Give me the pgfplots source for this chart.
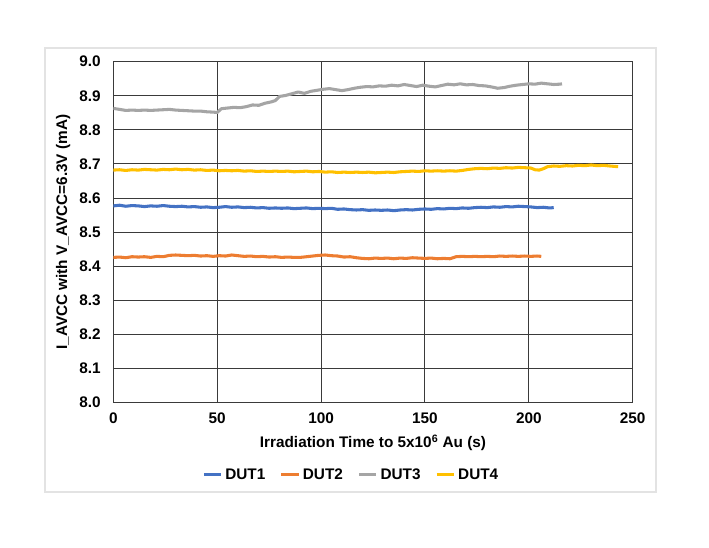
\documentclass[border=0pt]{standalone}
\usepackage{fontspec}
\setmainfont{Liberation Sans}
\usepackage{pgfplots}
\pgfplotsset{compat=1.18}

\definecolor{dutblue}{HTML}{4472C4}
\definecolor{dutorange}{HTML}{ED7D31}
\definecolor{dutgray}{HTML}{A5A5A5}
\definecolor{dutyellow}{HTML}{FFC000}
\definecolor{gridc}{HTML}{3A3A3A}

\newcommand{\chartfont}{\fontsize{11.5}{13}\selectfont\bfseries}

\begin{document}
\begin{tikzpicture}
\path[use as bounding box] (0,0) rectangle (531.75pt,411pt);
\draw[gray!22, line width=0.9pt] (33.75pt,42pt) rectangle (492pt,375pt);
\begin{axis}[
    at={(85pt,109pt)}, anchor=south west,
    scale only axis,
    width=389.5pt, height=255.75pt,
    xmin=0, xmax=250, ymin=8.0, ymax=9.0,
    xtick={0,50,...,250},
    ytick={8.0,8.1,...,9.0},
    grid=major,
    grid style={gridc, line width=0.75pt},
    axis line style={gridc, line width=0.75pt},
    major tick length=0pt,
    /pgf/number format/assume math mode=true,
    yticklabel style={/pgf/number format/.cd, fixed, fixed zerofill, precision=1, /tikz/.cd, font=\chartfont, xshift=-6pt},
    xticklabel style={font=\chartfont, yshift=-4pt},
    xlabel={Irradiation Time to 5x10\textsuperscript{6} Au (s)},
    ylabel={I\_AVCC with V\_AVCC=6.3V (mA)},
    xlabel style={font=\chartfont, at={(axis description cs:0.5,-0.118)}, anchor=center},
    ylabel style={font=\chartfont, at={(axis description cs:-0.0968,0.5)}, anchor=center},
    legend columns=4,
    legend style={at={(axis description cs:0.4588,-0.212)}, anchor=center, draw=none, fill=none,
        font=\chartfont, inner sep=0pt,
        /tikz/every even column/.append style={column sep=9pt}},
    legend cell align=left,
    legend image code/.code={\draw[#1, line width=2.2pt] (0pt,0pt) -- (13pt,0pt);},
    every axis plot/.append style={line width=2.3pt, line join=round},
]
\addplot[dutblue] coordinates {
(0,8.577) (3,8.579) (6,8.576) (9,8.578) (12,8.577) (15,8.575) (18,8.577) (21,8.576)
(24,8.578) (27,8.576) (30,8.575) (33,8.576) (36,8.574) (39,8.575) (42,8.573) (45,8.574)
(48,8.572) (51,8.573) (54,8.575) (57,8.573) (60,8.574) (63,8.572) (66,8.573) (69,8.571)
(72,8.572) (75,8.570) (78,8.571) (81,8.570) (84,8.571) (87,8.569) (90,8.570) (93,8.571)
(96,8.569) (99,8.570) (102,8.569) (105,8.570) (108,8.567) (111,8.568) (114,8.566) (117,8.565)
(120,8.566) (123,8.564) (126,8.565) (129,8.564) (132,8.565) (135,8.563) (138,8.565) (141,8.566)
(144,8.565) (147,8.567) (150,8.568) (153,8.567) (156,8.569) (159,8.568) (162,8.570) (165,8.569)
(168,8.571) (171,8.570) (174,8.572) (177,8.573) (180,8.572) (183,8.574) (186,8.573) (189,8.575)
(192,8.574) (195,8.576) (198,8.575) (201,8.574) (204,8.572) (207,8.573) (210,8.571) (212,8.572)
};
\addplot[dutorange] coordinates {
(0,8.426) (3,8.427) (6,8.425) (9,8.428) (12,8.427) (15,8.428) (18,8.426) (21,8.429)
(24,8.428) (27,8.432) (30,8.433) (33,8.432) (36,8.431) (39,8.432) (42,8.430) (45,8.431)
(48,8.429) (51,8.431) (54,8.430) (57,8.433) (60,8.431) (63,8.429) (66,8.430) (69,8.428)
(72,8.429) (75,8.427) (78,8.428) (81,8.426) (84,8.427) (87,8.426) (90,8.426) (93,8.428)
(96,8.430) (99,8.432) (102,8.433) (105,8.431) (108,8.430) (111,8.427) (114,8.428) (117,8.425)
(120,8.423) (123,8.422) (126,8.424) (129,8.423) (132,8.424) (135,8.422) (138,8.424) (141,8.423)
(144,8.425) (147,8.424) (150,8.423) (153,8.424) (156,8.422) (159,8.423) (162,8.422) (165,8.428)
(168,8.429) (171,8.428) (174,8.429) (177,8.428) (180,8.429) (183,8.428) (186,8.430) (189,8.429)
(192,8.430) (195,8.429) (198,8.430) (201,8.429) (204,8.430) (206,8.429)
};
\addplot[dutgray] coordinates {
(0,8.863) (3,8.860) (6,8.857) (9,8.858) (12,8.857) (15,8.858) (18,8.857) (21,8.858)
(24,8.859) (27,8.860) (30,8.858) (33,8.857) (36,8.856) (39,8.855) (42,8.855) (45,8.853)
(48,8.852) (50,8.851) (52,8.862) (55,8.864) (58,8.866) (61,8.865) (64,8.868) (67,8.873)
(70,8.872) (73,8.878) (76,8.882) (78,8.886) (80,8.898) (83,8.901) (86,8.906) (89,8.911)
(92,8.907) (95,8.913) (98,8.916) (101,8.919) (104,8.921) (107,8.918) (110,8.915) (113,8.918)
(116,8.922) (119,8.925) (122,8.927) (125,8.926) (128,8.929) (131,8.928) (134,8.931) (137,8.929)
(140,8.933) (143,8.930) (146,8.927) (149,8.931) (152,8.928) (155,8.926) (158,8.930) (161,8.934)
(164,8.932) (167,8.935) (170,8.932) (173,8.933) (176,8.930) (179,8.929) (182,8.926) (185,8.922)
(188,8.924) (191,8.928) (194,8.931) (197,8.933) (200,8.935) (203,8.934) (206,8.937) (209,8.935)
(212,8.933) (215,8.934) (216,8.935)
};
\addplot[dutyellow] coordinates {
(0,8.682) (3,8.683) (6,8.681) (9,8.683) (12,8.682) (15,8.684) (18,8.683) (21,8.682)
(24,8.684) (27,8.683) (30,8.685) (33,8.683) (36,8.684) (39,8.682) (42,8.683) (45,8.681)
(48,8.682) (51,8.680) (54,8.681) (57,8.680) (60,8.681) (63,8.679) (66,8.680) (69,8.678)
(72,8.679) (75,8.678) (78,8.679) (81,8.678) (84,8.679) (87,8.677) (90,8.678) (93,8.679)
(96,8.677) (99,8.678) (102,8.676) (105,8.677) (108,8.675) (111,8.676) (114,8.675) (117,8.676)
(120,8.675) (123,8.676) (126,8.674) (129,8.675) (132,8.676) (135,8.675) (138,8.677) (141,8.678)
(144,8.679) (147,8.678) (150,8.680) (153,8.679) (156,8.680) (159,8.679) (162,8.680) (165,8.679)
(168,8.681) (171,8.684) (174,8.686) (177,8.687) (180,8.686) (183,8.688) (186,8.687) (189,8.689)
(192,8.688) (195,8.690) (198,8.689) (201,8.688) (203,8.683) (205,8.682) (207,8.686) (209,8.692)
(212,8.694) (215,8.693) (218,8.695) (221,8.694) (224,8.696) (227,8.695) (230,8.697) (233,8.695)
(236,8.696) (239,8.694) (243,8.692)
};
\legend{DUT1,DUT2,DUT3,DUT4}
\end{axis}
\end{tikzpicture}
\end{document}
